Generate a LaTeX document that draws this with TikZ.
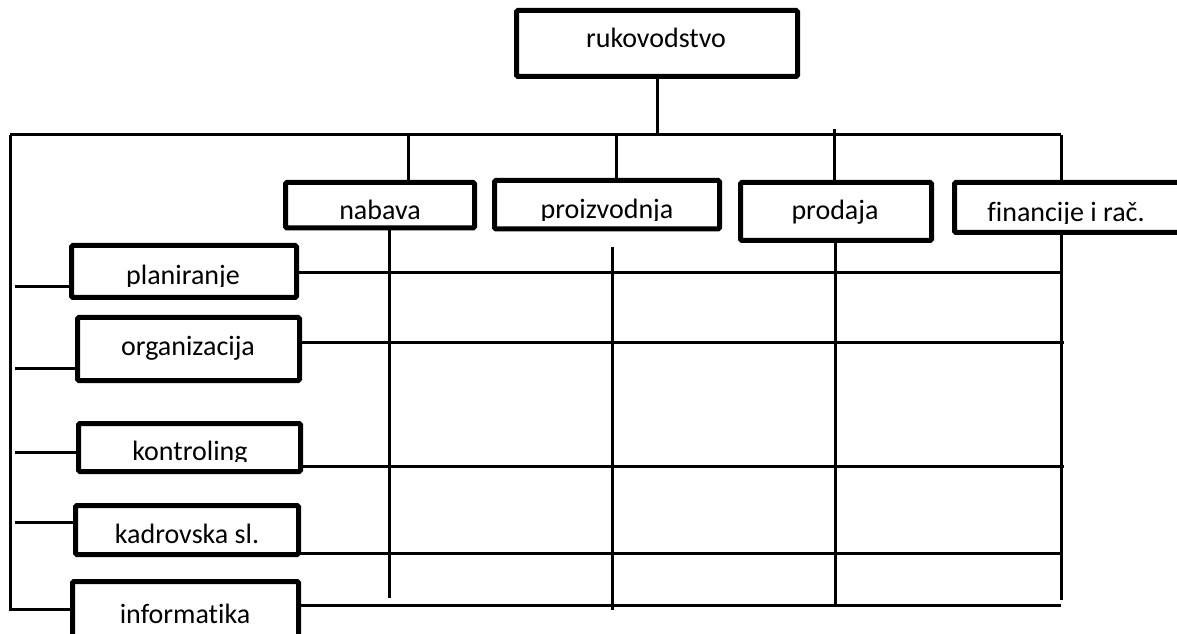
\documentclass[tikz,border=0pt]{standalone}
\usepackage{fontspec}
\setmainfont{Carlito}[Ligatures=NoCommon]
\usetikzlibrary{fit,calc}
\newcommand{\orgbox}[5]{%
  \path (#2,#3) coordinate (#1-a) (#4,#5) coordinate (#1-b);
  \node[box, fit=(#1-a)(#1-b)] (#1) {};}
\newcommand{\cuttxt}[4]{%
  \begin{scope}
    \clip (#2-160,#3+1.5) rectangle (#2+160,#3-40);
    \node[lbl] (#1) at (#2,#3) {#4};
  \end{scope}}
\begin{document}
\begin{tikzpicture}[x=0.75pt,y=-0.75pt,
  box/.style={draw, line width=3.75pt, inner sep=0pt, outer sep=0pt, rounded corners=1pt},
  conn/.style={line width=2.25pt},
  lbl/.style={anchor=base, inner sep=0pt, font=\fontsize{21}{25}\selectfont}]
\useasboundingbox (0,0) rectangle (1177,634);

% boxes
\orgbox{ruk}{516.5}{10.5}{797.5}{76.5}
\orgbox{nab}{285.5}{182.5}{474.5}{228}
\orgbox{pro}{494.5}{180.5}{719.5}{229}
\orgbox{prd}{740.5}{182.5}{931.5}{240.5}
\orgbox{fin}{954.5}{182.5}{1195}{232.5}
\orgbox{pla}{71.5}{245.5}{296.5}{297.5}
\orgbox{org}{77.5}{317.5}{299.5}{380.5}
\orgbox{kon}{78.5}{423.5}{300.5}{471.5}
\orgbox{kad}{75.5}{505.5}{298.5}{554.5}
\orgbox{inf}{72.5}{581.5}{298.5}{655}

% labels
\node[lbl] (tRuk) at (656,48) {rukovodstvo};
\node[lbl] (tNab) at (380,220) {nabava};
\cuttxt{tPro}{607}{219}{proizvodnja}
\node[lbl] (tPrd) at (835,220) {prodaja};
\cuttxt{tFin}{1066}{222}{financije i rač.}
\cuttxt{tPla}{183}{285}{planiranje}
\node[lbl] (tOrg) at (188,355) {organizacija};
\cuttxt{tKon}{190}{460}{kontroling}
\cuttxt{tKad}{187}{543}{kadrovska sl.}
\node[lbl] (tInf) at (185,623) {informatika};

% trunk coordinates
\coordinate (top) at (657,135);
\coordinate (tl) at (10,135);
\coordinate (tr) at (1061,135);
\coordinate (bl) at (10,609);
\coordinate (bN) at (408,135);
\coordinate (bP) at (616,135);
\coordinate (bD) at (834,129);
\coordinate (bF) at (1061,135);

% top connectors
\draw[conn] (ruk.south -| top) -- (top);
\draw[conn] (tl) -- (tr);
\draw[conn] (tl) -- (bl) -- (bl -| inf.west);
\draw[conn] (bN) -- (bN |- nab.north);
\draw[conn] (bP) -- (bP |- pro.north);
\draw[conn] (bD) -- (bD |- prd.north);
\draw[conn] (bF) -- (bF |- fin.north);

% lower verticals
\coordinate (vN) at (389,598);
\coordinate (vP0) at (612,247);
\coordinate (vP) at (612,610);
\coordinate (vD) at (835,605);
\coordinate (vF) at (1061,600);
\draw[conn] (vN |- nab.south) -- (vN);
\draw[conn] (vP0) -- (vP);
\draw[conn] (vD |- prd.south) -- (vD);
\draw[conn] (vF |- fin.south) -- (vF);

% horizontal rows
\coordinate (hPla) at (1061,273);
\coordinate (hOrg) at (1064,343);
\coordinate (hKon) at (1064,466);
\coordinate (hKad) at (1061,553);
\coordinate (hInf) at (1061,605);
\draw[conn] (hPla -| pla.east) -- (hPla);
\draw[conn] (hOrg -| org.east) -- (hOrg);
\draw[conn] (hKon -| kon.east) -- (hKon);
\draw[conn] (hKad -| kad.east) -- (hKad);
\draw[conn] (hInf -| inf.east) -- (hInf);

% left stubs
\coordinate (sPla) at (15,287);
\coordinate (sOrg) at (15,368);
\coordinate (sKon) at (15,452);
\coordinate (sKad) at (15,522);
\draw[conn] (sPla) -- (sPla -| pla.west);
\draw[conn] (sOrg) -- (sOrg -| org.west);
\draw[conn] (sKon) -- (sKon -| kon.west);
\draw[conn] (sKad) -- (sKad -| kad.west);
\end{tikzpicture}
\end{document}
